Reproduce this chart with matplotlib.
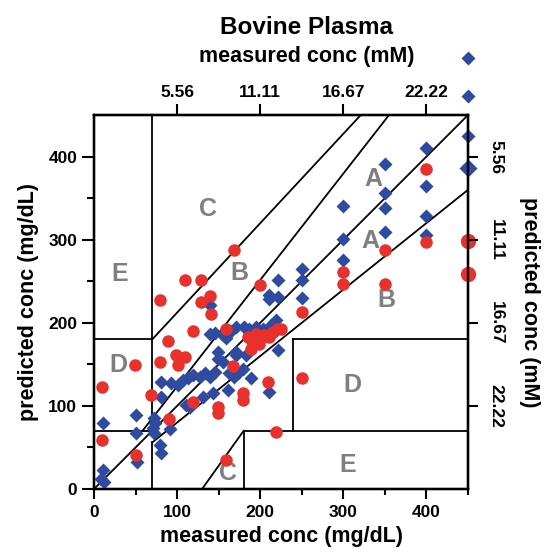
import matplotlib
matplotlib.use("Agg")
import matplotlib.pyplot as plt

plt.rcParams['font.family'] = ['Liberation Sans', 'DejaVu Sans']

# blue diamonds (measured, predicted) in mg/dL
blue_x = [400, 400, 400, 400,
          350, 350, 350, 350,
          300, 300, 300,
          250, 250, 250,
          221, 221, 211, 219, 210, 221, 210,
          159, 165, 171, 180, 187, 195, 203, 213, 199, 195, 145, 155, 183, 171,
          139, 139, 171, 149, 189, 149, 155,
          93, 101, 107, 113, 119, 127, 133, 139, 145,
          163, 169, 173, 179, 161, 143, 131, 115, 111, 81, 81,
          72, 73, 71, 72, 79, 81, 91, 51, 51, 52, 11, 11, 12, 8,
          450, 450, 450]
blue_y = [410, 365, 328, 306,
          391, 356, 338, 309,
          341, 301, 275,
          265, 252, 230,
          252, 231, 233, 203, 229, 167, 117,
          182, 190, 195, 195, 192, 195, 193, 197, 186, 180, 188, 185, 161, 161,
          221, 187, 165, 165, 133, 157, 153,
          127, 125, 131, 133, 137, 135, 139, 135, 141,
          139, 135, 139, 145, 119, 115, 111, 99, 101, 129, 111,
          85, 79, 73, 67, 53, 43, 72, 89, 67, 33, 79, 23, 8, 12,
          518, 473, 425]
# bigger blue point on the right edge
blue_edge_x = [450]
blue_edge_y = [386]

# red circles
red_x = [400, 400, 350, 350, 300, 300, 250, 250,
         200, 169, 110, 129, 129, 139, 79, 141, 159, 119, 89,
         99, 109, 101, 79, 49, 167,
         185, 190, 195, 200, 205, 210, 215, 220, 189, 199, 225,
         10, 69, 90, 119, 149, 149, 179, 179, 209, 219, 159, 10, 50]
red_y = [385, 297, 288, 247, 261, 247, 213, 133,
         245, 288, 252, 251, 225, 232, 228, 211, 192, 190, 178,
         161, 159, 149, 153, 149, 148,
         183, 178, 186, 180, 185, 183, 189, 192, 169, 175, 193,
         123, 113, 84, 105, 99, 91, 115, 107, 129, 69, 35, 59, 41]
red_edge_x = [450, 450]
red_edge_y = [299, 259]

# Clarke error grid segments
grid_x = [[70, 70], [70, 70], [0, 70], [0, 70],
          [0, 450], [58.3, 355], [70, 321], [70, 450],
          [180, 180], [180, 450], [240, 240], [240, 450], [130, 180]]
grid_y = [[84, 450], [0, 56], [180, 180], [70, 70],
          [0, 450], [70, 450], [180, 450], [56, 360],
          [0, 70], [70, 70], [70, 180], [180, 180], [0, 70]]

zone_text = ["A", "A", "B", "B", "C", "C", "D", "D", "E", "E"]
zone_x = [336, 333, 175, 352, 137, 161, 29, 311, 31, 305]
zone_y = [373, 299, 260, 227, 337, 19, 149, 125, 259, 29]

mm_ticks = [100, 200, 300, 400]
mm_labels = ["5.56", "11.11", "16.67", "22.22"]
mm_right_labels = ["22.22", "16.67", "11.11", "5.56"]

fig = plt.figure(figsize=(5.44, 5.54), dpi=100)
ax = fig.add_axes([0.1728, 0.1173, 0.6875, 0.6751])

for gx, gy in zip(grid_x, grid_y):
    ax.plot(gx, gy, color="black", lw=1.3, zorder=2)

for t, x, y in zip(zone_text, zone_x, zone_y):
    ax.text(x, y, t, color="#7f7f7f", fontsize=18, fontweight="bold",
            ha="center", va="center", zorder=3)

ax.plot(blue_x, blue_y, "D", color="#2f4ba0", ms=7, mec="none",
        clip_on=False, zorder=4)
ax.plot(blue_edge_x, blue_edge_y, "D", color="#2f4ba0", ms=9, mec="none",
        clip_on=False, zorder=4)
ax.plot(red_x, red_y, "o", color="#e8302c", ms=9, mec="none",
        clip_on=False, zorder=5)
ax.plot(red_edge_x, red_edge_y, "o", color="#e8302c", ms=11, mec="none",
        clip_on=False, zorder=5)

ax.set_xlim(0, 450)
ax.set_ylim(0, 450)
ax.set_xticks([0, 100, 200, 300, 400])
ax.set_yticks([0, 100, 200, 300, 400])
ax.set_xticks([50, 150, 250, 350, 450], minor=True)
ax.set_yticks([50, 150, 250, 350], minor=True)
ax.tick_params(axis="x", which="major", length=7.5, width=1.5, labelsize=12.5, pad=4)
ax.tick_params(axis="x", which="minor", length=4, width=1.5)
ax.tick_params(axis="y", which="major", length=9, width=1.5, labelsize=12.5, pad=3)
ax.tick_params(axis="y", which="minor", length=5, width=1.5)
for lab in ax.get_xticklabels() + ax.get_yticklabels():
    lab.set_fontweight("bold")
for s in ax.spines.values():
    s.set_linewidth(1.6)
ax.set_xlabel("measured conc (mg/dL)", fontsize=15.5, fontweight="bold", labelpad=4)
ax.set_ylabel("predicted conc (mg/dL)", fontsize=15.5, fontweight="bold", labelpad=7)

top = ax.twiny()
top.set_xlim(0, 450)
top.set_xticks(mm_ticks)
top.set_xticklabels(mm_labels, fontsize=12.5, fontweight="bold")
top.tick_params(length=8, width=1.5, pad=3)

right = ax.twinx()
right.set_ylim(0, 450)
right.set_yticks(mm_ticks)
right.set_yticklabels(mm_right_labels, fontsize=12.5, fontweight="bold",
                      rotation=-90, va="center")
right.tick_params(length=7, width=1.5, pad=8)
right.set_ylabel("predicted conc (mM)", fontsize=15.5, fontweight="bold",
                 rotation=-90, labelpad=26)
for a in (top, right):
    for s in a.spines.values():
        s.set_linewidth(1.6)

fig.text(0.564, 0.950, "Bovine Plasma", fontsize=17.5, fontweight="bold",
         ha="center", va="center")
fig.text(0.564, 0.898, "measured conc (mM)", fontsize=15.5, fontweight="bold",
         ha="center", va="center")

fig.savefig("out.png", dpi=100)
